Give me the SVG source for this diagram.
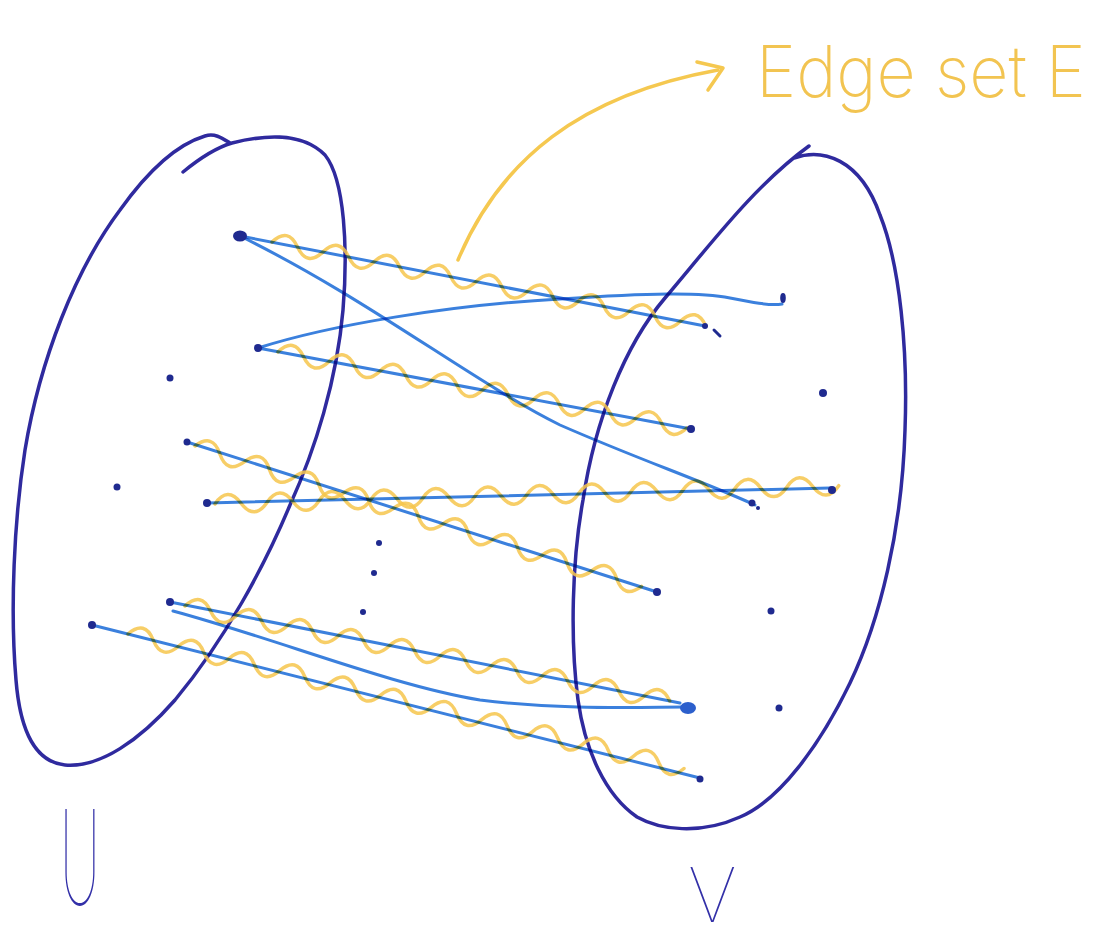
<svg xmlns="http://www.w3.org/2000/svg" width="1118" height="942" viewBox="0 0 1118 942">
<style>
.set{fill:none;stroke:#2f2a9e;stroke-width:3.5;stroke-linecap:round;stroke-linejoin:round}
.edge{fill:none;stroke:#3b80dd;stroke-width:3;stroke-linecap:round;mix-blend-mode:multiply}
.wave{fill:none;stroke:#f6c64c;stroke-width:3.5;stroke-linecap:round;opacity:.85}
.dot{fill:#1f2a8f}
.lbl{font-family:Inter,Lato,'DejaVu Sans',sans-serif;font-weight:100;fill:#3330a8}
.note{font-family:Inter,Lato,'DejaVu Sans',sans-serif;font-weight:200;fill:#f2c451;font-size:72px}
</style>
<rect width="1118" height="942" fill="#ffffff"/>
<g id="set-U">
<path class="set" d="M183,172 C200,158 215,148 232,143 C260,136 300,130 325,155 C345,180 348,250 343,310 C337,380 315,450 290,505 C265,565 225,640 175,700 C140,740 100,768 65,765 C35,762 20,730 16,680 C10,610 14,520 25,450 C40,360 75,270 120,210 C145,175 175,145 205,136 C215,133 222,138 230,143"/>
</g>
<g id="set-V">
<path class="set" d="M794,158 C822,148 860,158 880,215 C900,265 908,350 905,430 C902,530 880,620 850,683 C820,745 780,800 740,817 C700,835 660,830 637,817 C605,795 585,750 578,700 C570,640 572,560 583,500 C595,420 625,345 665,298 C710,245 755,185 809,146"/>
</g>
<g id="connectors">
<g id="waves">
<path class="wave" transform="translate(272,242) rotate(10.97)" d="M0 0q13-18 26 0t26 0t26 0t26 0t26 0t26 0t26 0t26 0t26 0t26 0t26 0t26 0t26 0t26 0t26 0t26 0t26 0"/>
<path class="wave" transform="translate(278,352) rotate(10.5)" d="M0 0q13-18 26 0t26 0t26 0t26 0t26 0t26 0t26 0t26 0t26 0t26 0t26 0t26 0t26 0t26 0t26 0t26 0"/>
<path class="wave" transform="translate(195,446) rotate(17.45)" d="M0 0q13-18 26 0t26 0t26 0t26 0t26 0t26 0t26 0t26 0t26 0t26 0t26 0t26 0t26 0t26 0t26 0t26 0t26 0t26 0"/>
<path class="wave" transform="translate(215,504) rotate(-1.68)" d="M0 0q13-18 26 0t26 0t26 0t26 0t26 0t26 0t26 0t26 0t26 0t26 0t26 0t26 0t26 0t26 0t26 0t26 0t26 0t26 0t26 0t26 0t26 0t26 0t26 0t26 0"/>
<path class="wave" transform="translate(185,606) rotate(11.09)" d="M0 0q13-18 26 0t26 0t26 0t26 0t26 0t26 0t26 0t26 0t26 0t26 0t26 0t26 0t26 0t26 0t26 0t26 0t26 0t26 0t26 0"/>
<path class="wave" transform="translate(128,634) rotate(13.6)" d="M0 0q13-18 26 0t26 0t26 0t26 0t26 0t26 0t26 0t26 0t26 0t26 0t26 0t26 0t26 0t26 0t26 0t26 0t26 0t26 0t26 0t26 0t26 0t26 0"/>
</g>
<g id="edges">
<path class="edge" d="M240,236 L705,326"/>
<path class="edge" d="M240,236 C370,300 470,380 560,425 C640,460 700,480 755,505"/>
<path class="edge" d="M258,348 C330,325 450,305 560,299 C650,293 700,292 730,298 C750,302 770,306 782,304"/>
<path class="edge" d="M258,348 L691,429"/>
<path class="edge" d="M187,442 L657,592"/>
<path class="edge" d="M207,503 L830,488"/>
<path class="edge" d="M170,602 L680,703"/>
<path class="edge" d="M173,611 C280,640 390,685 480,700 C560,710 640,707 685,707"/>
<path class="edge" d="M92,625 L700,778"/>
</g>
<g id="arrow-E" fill="none" stroke="#f5c850" stroke-width="3.5" stroke-linecap="round" stroke-linejoin="round">
<path d="M458,260 C500,160 580,95 718,70"/>
<polyline points="697,62 723,68 708,90"/>
</g>
</g>
<g id="nodes-U">
<g id="u1"><ellipse class="dot" cx="240" cy="236" rx="7" ry="5.5"/></g>
<g id="u2"><circle class="dot" cx="258" cy="348" r="4"/></g>
<g id="u3"><circle class="dot" cx="170" cy="378" r="3.5"/></g>
<g id="u4"><circle class="dot" cx="187" cy="442" r="3.5"/></g>
<g id="u5"><circle class="dot" cx="117" cy="487" r="3.5"/></g>
<g id="u6"><circle class="dot" cx="207" cy="503" r="4"/></g>
<g id="u7"><circle class="dot" cx="170" cy="602" r="4"/></g>
<g id="u8"><circle class="dot" cx="92" cy="625" r="4"/></g>
</g>
<g id="ellipsis">
<circle class="dot" cx="379" cy="543" r="3"/>
<circle class="dot" cx="374" cy="573" r="3"/>
<circle class="dot" cx="363" cy="612" r="3"/>
</g>
<g id="nodes-V">
<g id="v1"><ellipse class="dot" cx="783" cy="298" rx="2.8" ry="5"/></g>
<g id="v2"><circle class="dot" cx="705" cy="326" r="3"/><path d="M714,330 L720,336" stroke="#1f2a8f" stroke-width="3" stroke-linecap="round"/></g>
<g id="v3"><circle class="dot" cx="823" cy="393" r="4"/></g>
<g id="v4"><circle class="dot" cx="691" cy="429" r="4"/></g>
<g id="v5"><circle class="dot" cx="752" cy="503" r="3.5"/><circle class="dot" cx="758" cy="508" r="2"/></g>
<g id="v6"><circle class="dot" cx="832" cy="490" r="4"/></g>
<g id="v7"><circle class="dot" cx="657" cy="592" r="4"/></g>
<g id="v8"><circle class="dot" cx="771" cy="611" r="3.5"/></g>
<g id="v9"><ellipse cx="688" cy="708" rx="8" ry="6" fill="#2c5fcc"/></g>
<g id="v10"><circle class="dot" cx="779" cy="708" r="3.5"/></g>
<g id="v11"><circle class="dot" cx="700" cy="779" r="3.5"/></g>
</g>
<g id="labels">
<text class="lbl" font-size="132" transform="translate(60,905) scale(0.42,1)">U</text>
<text class="lbl" font-size="76" x="688" y="922">V</text>
<text class="note" x="756" y="97" textLength="330" lengthAdjust="spacingAndGlyphs">Edge set E</text>
</g>
</svg>
